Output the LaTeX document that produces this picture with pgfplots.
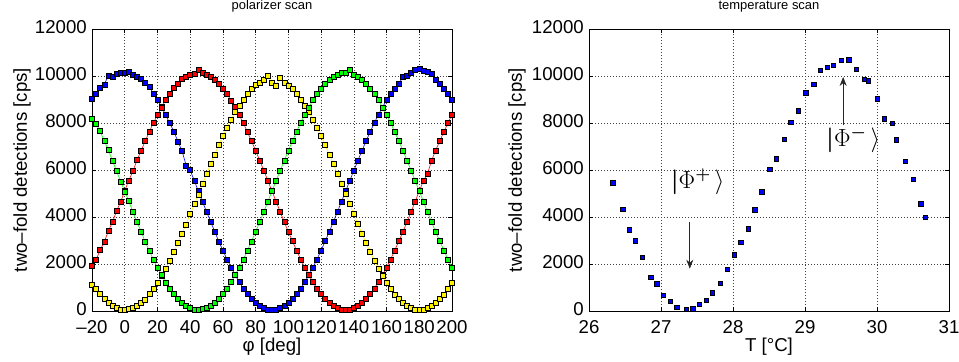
\documentclass[border=0pt]{standalone}
\usepackage{amsmath}
\usepackage{fontspec}
\setmainfont{Liberation Sans}
\usepackage{pgfplots}
\pgfplotsset{compat=1.18}
\usepackage{pgfplotstable}
\usetikzlibrary{arrows.meta}

\pgfplotstableread{
x b r y g
-20 9050 1920 1120 8200
-17.5 9260 2180 960 7950
-15 9520 2600 740 7650
-12.5 9640 2940 520 7230
-10 10020 3400 360 6850
-7.5 9980 3780 230 6400
-5 10080 4250 130 5950
-2.5 10150 4640 60 5520
0 10120 5120 50 5080
2.5 10160 5560 75 4680
5 10050 5950 130 4220
7.5 9960 6420 210 3780
10 9880 6820 350 3390
12.5 9720 7230 500 2950
15 9560 7620 720 2560
17.5 9230 8010 930 2190
20 8980 8330 1190 1850
22.5 8700 8650 1500 1530
25 8330 8980 1800 1220
27.5 8000 9250 2140 960
30 7640 9480 2520 720
32.5 7220 9650 2900 520
35 6820 9870 3300 360
37.5 6200 9950 3690 220
40 5990 10060 4120 130
42.5 5550 10100 4550 70
45 5100 10280 4950 50
47.5 4650 10120 5400 75
50 4230 10060 5820 130
52.5 3800 9960 6250 220
55 3380 9840 6670 350
57.5 2960 9680 7060 520
60 2570 9460 7440 730
62.5 2200 9230 7800 960
65 1850 8960 8150 1230
67.5 1530 8680 8460 1530
70 1230 8340 8750 1850
72.5 960 7990 9010 2200
75 730 7620 9230 2580
77.5 520 7230 9450 2960
80 360 6830 9610 3380
82.5 220 6400 9730 3790
85 130 5980 9830 4220
87.5 70 5540 10020 4660
90 50 5100 9700 5100
92.5 70 4660 9600 5540
95 130 4220 9920 5980
97.5 220 3790 9730 6400
100 360 3370 9600 6830
102.5 520 2970 9440 7230
105 730 2580 9240 7620
107.5 960 2200 9010 8000
110 1230 1850 8750 8350
112.5 1530 1530 8460 8670
115 1850 1230 8140 8970
117.5 2200 960 7800 9240
120 2580 730 7440 9470
122.5 2970 520 7060 9680
125 3370 360 6660 9850
127.5 3790 220 6250 9980
130 4220 130 5830 10070
132.5 4660 70 5400 10130
135 5100 50 4980 10150
137.5 5540 70 4550 10280
140 5980 130 4120 10070
142.5 6400 220 3700 9980
145 6830 360 3290 9840
147.5 7230 520 2890 9680
150 7620 730 2510 9470
152.5 8000 960 2150 9240
155 8350 1230 1810 8970
157.5 8670 1530 1490 8670
160 8970 1850 1200 8350
162.5 9240 2200 940 8000
165 9470 2580 710 7620
167.5 9680 2970 510 7230
170 9950 3370 350 6830
172.5 10000 3790 220 6400
175 10150 4220 125 5980
177.5 10270 4660 70 5540
180 10290 5100 50 5100
182.5 10230 5540 70 4660
185 10180 5830 125 4220
187.5 10080 6400 220 3790
190 9850 6830 350 3370
192.5 9680 7230 510 2970
195 9470 7620 710 2580
197.5 9240 8000 940 2200
200 8970 8350 1200 1850
}\polscan

\pgfplotstableread{
T c
26.33 5457
26.47 4315
26.56 3455
26.64 2989
26.74 2284
26.86 1424
26.94 1156
27.03 677
27.13 423
27.22 169
27.35 85
27.44 99
27.53 282
27.63 451
27.71 776
27.82 1184
27.92 1777
28.02 2397
28.11 2933
28.21 3497
28.30 4301
28.40 5076
28.51 6021
28.60 6472
28.71 7304
28.80 8023
28.91 8516
29.01 9292
29.12 9659
29.21 10251
29.31 10378
29.39 10448
29.50 10660
29.61 10688
29.71 10293
29.82 9856
29.88 9800
30.00 9038
30.10 8178
30.21 7981
30.27 7290
30.39 6359
30.50 5598
30.61 4554
30.67 3990
}\tempscan

\pgfplotsset{
  matstyle/.style={
    scale only axis, width=360bp, height=282bp,
    ymin=0, ymax=12000, ytick={0,2000,...,12000},
    scaled y ticks=false,
    /pgf/number format/.cd, fixed, 1000 sep={}, assume math mode=true, /pgfplots/.cd,
    tick label style={font=\fontsize{18.7}{20}\selectfont, inner sep=0pt},
    xticklabel style={anchor=north, yshift=-9.5bp},
    yticklabel style={anchor=east, xshift=-5bp, yshift=2bp},
    label style={font=\fontsize{18.7}{20}\selectfont},
    title style={font=\fontsize{13}{14}\selectfont, at={(axis description cs:0.5,1)}, anchor=south, yshift=7.5bp},
    grid=major,
    major grid style={dash pattern=on 0.7bp off 2.3bp, black!75, line width=0.5bp},
    tick align=inside, major tick length=4bp,
    tick style={black, line width=0.6bp},
    axis line style={line width=0.8bp},
    xlabel style={at={(axis description cs:0.5,-0.128)}, anchor=center},
  },
  pol/.style={#1, line width=0.6bp, mark=square*, mark size=2.5bp,
    mark options={fill=#1, draw=black, line width=0.5bp, solid}},
}

\begin{document}
\begin{tikzpicture}
\path[use as bounding box] (-92bp,-51bp) rectangle (867bp,311bp);
\begin{axis}[matstyle,
  at={(0,0)}, anchor=south west,
  xmin=-20, xmax=200, xtick={-20,0,...,200},
  xticklabels={–20,0,20,40,60,80,100,120,140,160,180,200},
  title={polarizer scan},
  xlabel={φ [deg]},
  ylabel={two–fold detections [cps]},
  ylabel style={at={(axis description cs:-0.194,0.5)}, anchor=center},
]
\addplot[pol=blue] table[x=x, y=b] {\polscan};
\addplot[pol=red] table[x=x, y=r] {\polscan};
\addplot[pol=yellow] table[x=x, y=y] {\polscan};
\addplot[pol=green] table[x=x, y=g] {\polscan};
\end{axis}

\begin{axis}[matstyle,
  at={(497bp,0)}, anchor=south west,
  xmin=26, xmax=31, xtick={26,27,...,31},
  title={temperature scan},
  xlabel={T [°C]},
  ylabel={two–fold detections [cps]},
  ylabel style={at={(axis description cs:-0.2,0.5)}, anchor=center},
]
\addplot[only marks, mark=square*, mark size=2.2bp,
  mark options={fill=blue, draw=black, line width=0.6bp}] table[x=T, y=c] {\tempscan};
\draw[-{Stealth[length=9bp,width=7bp]}, line width=0.7bp, black!85] (axis cs:27.40,3800) -- (axis cs:27.40,1800);
\draw[-{Stealth[length=9bp,width=7bp]}, line width=0.7bp, black!85] (axis cs:29.53,7900) -- (axis cs:29.53,9960);
\node[font=\fontsize{26}{28}\selectfont] at (axis cs:27.51,5500) {$\boldsymbol{|}\Phi^{\boldsymbol{+}}\,\rangle$};
\node[font=\fontsize{26}{28}\selectfont] at (axis cs:29.67,7300) {$\boldsymbol{|}\Phi^{\boldsymbol{-}}\,\rangle$};
\end{axis}
\end{tikzpicture}
\end{document}
